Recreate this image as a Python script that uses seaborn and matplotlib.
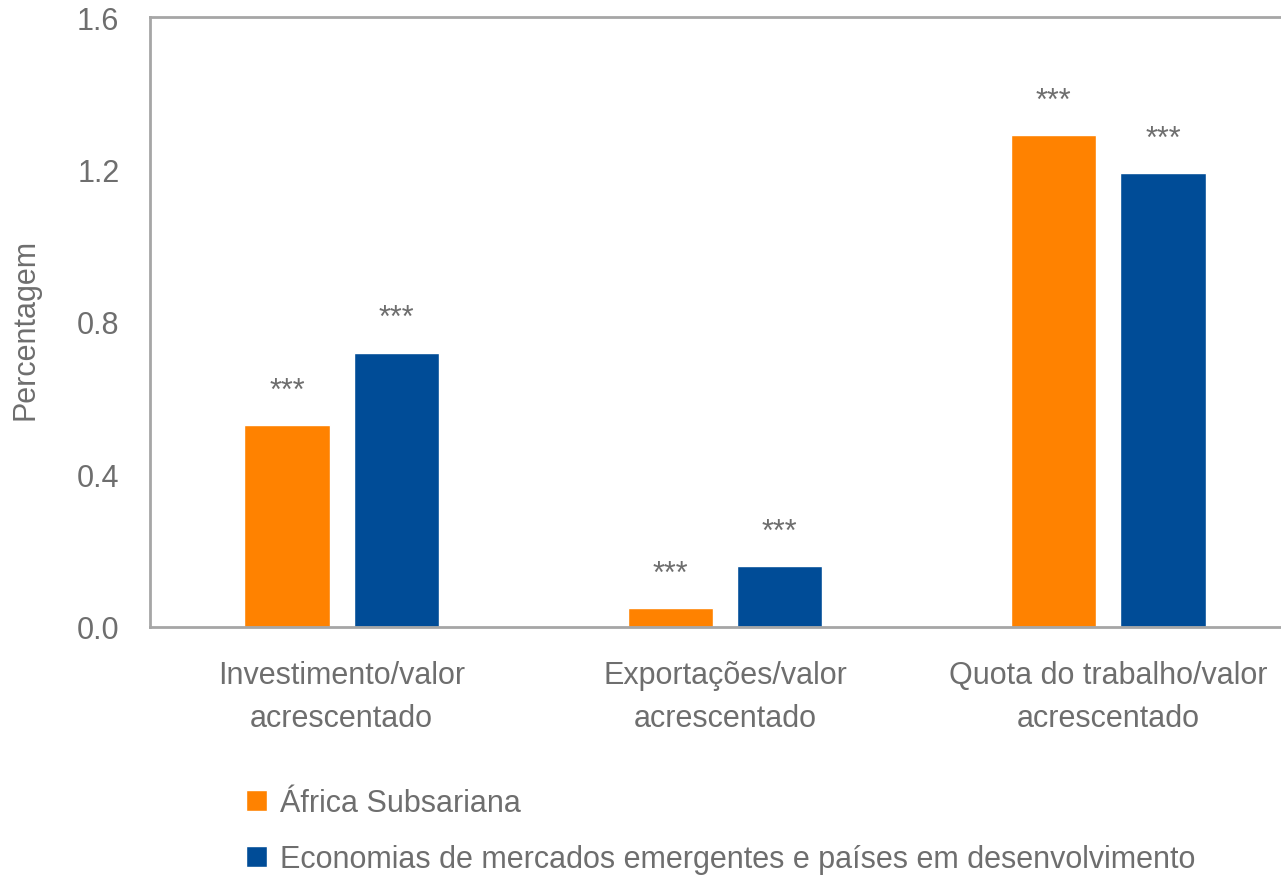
import seaborn as sns
import matplotlib.pyplot as plt
import pandas as pd
from matplotlib.patches import Patch

# dados
categorias = ["Investimento/valor\nacrescentado", "Exportações/valor\nacrescentado",
              "Quota do trabalho/valor\nacrescentado"]
grupos = ["África Subsariana", "Economias de mercados emergentes e países em desenvolvimento"]
africa = [0.53, 0.05, 1.29]
emergentes = [0.72, 0.16, 1.19]
cores = ["#FF8200", "#004C97"]
cinza = "#6E6E6E"

df = pd.DataFrame({
    "categoria": categorias * 2,
    "grupo": [grupos[0]] * 3 + [grupos[1]] * 3,
    "valor": africa + emergentes,
})

sns.set_style("white")
plt.rcParams["font.family"] = ["Liberation Sans Narrow", "Liberation Sans", "DejaVu Sans"]

fig = plt.figure(figsize=(12.81, 8.79), dpi=100)
ax = fig.add_axes([150 / 1281, 1 - 628 / 879, 1150 / 1281, 610 / 879])

sns.barplot(data=df, x="categoria", y="valor", hue="grupo", palette=cores, saturation=1,
            width=0.57, gap=0.22, legend=False, ax=ax)

for cont in ax.containers:
    ax.bar_label(cont, labels=["***"] * len(cont), padding=14, fontsize=22, color=cinza)

ax.set_ylim(0, 1.6)
ax.set_yticks([0, 0.4, 0.8, 1.2, 1.6])
ax.set_yticklabels(["0.0", "0.4", "0.8", "1.2", "1.6"])
ax.set_xlim(-0.5, 2.5)
ax.set_xlabel("")
ax.set_ylabel("Percentagem", fontsize=22, color=cinza)
ax.yaxis.set_label_coords(-0.095, 0.49)
ax.tick_params(axis="both", length=0, labelsize=22, colors=cinza)
ax.tick_params(axis="x", pad=24)
ax.tick_params(axis="y", pad=22)
for t in ax.get_xticklabels():
    t.set_linespacing(1.55)

for s in ["left", "top", "bottom"]:
    ax.spines[s].set_color("#A6A6A6")
    ax.spines[s].set_linewidth(2)
ax.spines["right"].set_visible(False)

handles = [Patch(facecolor=c, label=g) for c, g in zip(cores, grupos)]
fig.legend(handles=handles, loc="upper left", bbox_to_anchor=(246 / 1281, 1 - 789 / 879),
           frameon=False, fontsize=22, labelcolor=cinza, handlelength=0.7, handleheight=0.7,
           handletextpad=0.4, labelspacing=0.85, borderaxespad=0, borderpad=0)

fig.savefig("out.png", dpi=100)
